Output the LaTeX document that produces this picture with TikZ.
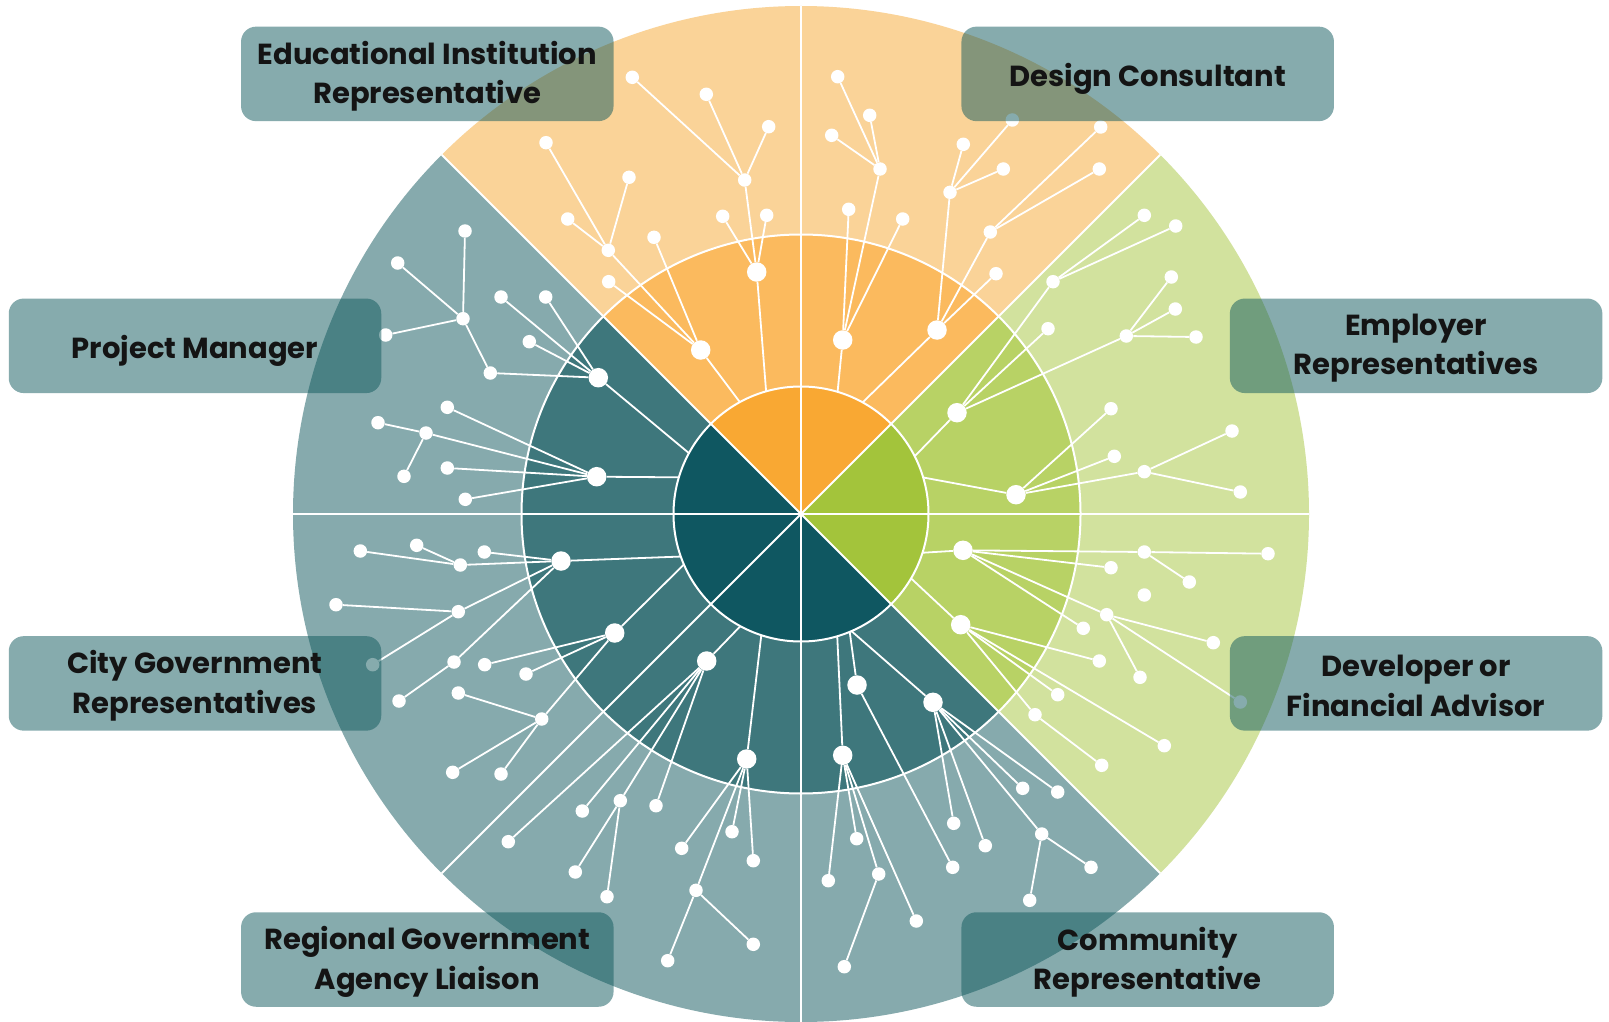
\documentclass[tikz,border=0pt]{standalone}
\usepackage{fontspec}
\setmainfont{Poppins}
\usetikzlibrary{calc}
\definecolor{oOut}{HTML}{FAD398}
\definecolor{oMid}{HTML}{FBBA5E}
\definecolor{oIn}{HTML}{F9A833}
\definecolor{gOut}{HTML}{D2E29E}
\definecolor{gMid}{HTML}{B8D265}
\definecolor{gIn}{HTML}{A3C43B}
\definecolor{tOut}{HTML}{86AAAD}
\definecolor{tMid}{HTML}{3E777C}
\definecolor{tIn}{HTML}{0F5761}
\definecolor{boxteal}{HTML}{0F595D}
\definecolor{boxtext}{HTML}{141414}
\begin{document}
\begin{tikzpicture}[x=1pt,y=-1pt,
  bigdot/.style={circle,fill=white,inner sep=0pt,minimum size=19.5pt},
  sdot/.style={circle,fill=white,inner sep=0pt,minimum size=13.5pt},
  link/.style={draw=white,line width=1.8pt},
  sepline/.style={draw=white,line width=2pt},
  tagbox/.style={rounded corners=15pt,fill=boxteal,fill opacity=0.5,
    minimum width=372.5pt,minimum height=94.5pt,inner sep=0pt},
  tagtext/.style={align=center,text=boxtext,inner sep=0pt,
    font=\bfseries\fontsize{29}{39.5}\selectfont},
  oneline/.style={tagtext,yshift=-5pt},
  twoline/.style={tagtext,yshift=-2.5pt}]
\useasboundingbox (0,0) rectangle (1609,1022);
\fill[white] (0,0) rectangle (1609,1022);
\coordinate (ctr) at (801,514);
% outer and middle rings
\foreach \a/\co/\cm in {0/gOut/gMid,45/oOut/oMid,90/oOut/oMid,135/tOut/tMid,180/tOut/tMid,225/tOut/tMid,270/tOut/tMid,315/gOut/gMid}{
  \fill[\co] (ctr) -- ++(-\a:508) arc[start angle=-\a,end angle=-\a-45,radius=508] -- cycle;
  \fill[\cm] (ctr) -- ++(-\a:279.5) arc[start angle=-\a,end angle=-\a-45,radius=279.5] -- cycle;
}
% big dots
\foreach \n/\x/\y in {A/756.7/272,B/700.7/350,C/842.7/340,D/937/330,E/957/412.7,F/1016/494.7,
  G/963/550.3,H/960.7/624.7,I/933/702.3,J/857/685,K/842.7/755.3,L/706.7/661,M/746.7/759,
  N/614.7/633,O/561/561,P/598.3/377.7,Q/596.7/476.7}
  \node[bigdot] (\n) at (\x,\y) {};
% small dots
\foreach \n/\x/\y in {
  a1/722.7/216.3,a2/744.7/180,a3/766.7/215.3,a21/706.3/94.3,a22/768.7/126.7,a23/632.3/77.3,
  b1/608.7/281.7,b2/608.3/250.3,b3/654/237.3,b21/546/142.7,b22/629/177.3,b23/567.7/219,
  c1/880/169,c2/848.7/209.3,c3/902.7/219,c11/837.7/76.7,c12/869.7/115.3,c13/831.7/135.3,
  d1/950/192.3,d2/990.3/232,d3/996/273.7,d11/963.3/144.3,d12/1012.3/120,d13/1003.3/169,
  d21/1100.7/127,d22/1099.3/169,
  e1/1053/281.7,e2/1048/328.7,e3/1126.3/336,e11/1144.3/215.3,e12/1175.7/226,
  e31/1171.3/277,e32/1175.3/309,e33/1196/337,
  f1/1111/408.7,f2/1114.3/456.3,f3/1144.3/471.7,f31/1232/431,f32/1240.3/492,
  g1/1144.3/552,g2/1111/567.7,g3/1083.3/628.3,g4/1106.7/614.7,g11/1268/553.7,g12/1189.3/582,
  g41/1213.3/642.7,g42/1140/677.3,g43/1240.3/702,iso/1144.3/595,
  h1/1099.3/661,h2/1057.7/694.7,h3/1035/714.7,h4/1164.3/745.7,h31/1101.7/765.3,
  j1/952.7/867.3,
  i1/953.7/823.3,i2/985.3/845.7,i3/1041.7/834,i4/1022.7/788.3,i5/1057.7/792,
  i31/1091/867.3,i32/1029.7/900.3,
  k1/828.3/880.7,k2/856.7/838.7,k3/878.7/874,k4/916.3/921,k31/844.3/966.7,
  l1/582.3/811,l2/620.3/800.7,l3/656/805.7,l4/508.3/841.7,l21/575.3/872,l22/607/896.7,
  m1/681.7/848.3,m2/732/831.7,m3/753.3/860.7,m4/696/890.3,m41/667.7/960.7,m42/753.3/944.3,
  o1/484.3/552,o2/460.3/565,o3/458.3/611.7,o4/454/662,o21/360.3/551,o22/416.7/545.3,
  o31/336/604.7,o32/372.7/664.7,o41/399/701,
  n1/484.7/664.7,n2/526/674,n3/541.7/719,n31/458.3/693,n32/452.7/772.3,n33/501/774,
  p1/501/297,p2/545.7/297,p3/529.3/341.7,p4/490.3/373,p41/463/318.7,
  p411/465/231,p412/397.7/263,p413/385.7/335,
  q1/447.3/407.3,q2/426/433,q3/447.3/468,q4/465.3/499.3,q21/378/422.7,q22/404/476.3}
  \node[sdot] (\n) at (\x,\y) {};
% connectors between dots
\foreach \u/\v in {A/a1,A/a2,A/a3,a2/a21,a2/a22,a2/a23,
  B/b1,B/b2,B/b3,b2/b21,b2/b22,b2/b23,
  C/c1,C/c2,C/c3,c1/c11,c1/c12,c1/c13,
  D/d1,D/d2,D/d3,d1/d11,d1/d12,d1/d13,d2/d21,d2/d22,
  E/e1,E/e2,E/e3,e1/e11,e1/e12,e3/e31,e3/e32,e3/e33,
  F/f1,F/f2,F/f3,f3/f31,f3/f32,
  G/g1,G/g2,G/g3,G/g4,g1/g11,g1/g12,g4/g41,g4/g42,g4/g43,
  H/h1,H/h2,H/h3,H/h4,h3/h31,
  J/j1,
  I/i1,I/i2,I/i3,I/i4,I/i5,i3/i31,i3/i32,
  K/k1,K/k2,K/k3,K/k4,k3/k31,
  L/l1,L/l2,L/l3,L/l4,l2/l21,l2/l22,
  M/m1,M/m2,M/m3,M/m4,m4/m41,m4/m42,
  O/o1,O/o2,O/o3,O/o4,o2/o21,o2/o22,o3/o31,o3/o32,o4/o41,
  N/n1,N/n2,N/n3,n3/n31,n3/n32,n3/n33,
  P/p1,P/p2,P/p3,P/p4,p4/p41,p41/p411,p41/p412,p41/p413,
  Q/q1,Q/q2,Q/q3,Q/q4,q2/q21,q2/q22}
  \draw[link] (\u) -- (\v);
% connectors from big dots into the inner circle
\foreach \u/\x/\y in {A/766/390,B/738.3/400,C/837.7/390.7,D/863.3/401.7,E/914.3/456.7,
  F/922.3/477.3,G/923.3/552.7,H/911.7/579,J/850/634,I/853.3/632.7,K/837.3/637.3,
  L/738.3/628.3,M/761/637.7,O/676.7/556.7,N/681.7/566.7,P/686/450.7,Q/675/477.3}{
  \coordinate (\u-in) at ($(\u)!1.12!(\x,\y)$);
  \draw[link] (\u) -- (\u-in);
}
% inner circle
\foreach \a/\ci in {0/gIn,45/oIn,90/oIn,135/tIn,180/tIn,225/tIn,270/tIn,315/gIn}{
  \fill[\ci] (ctr) -- ++(-\a:127.5) arc[start angle=-\a,end angle=-\a-45,radius=127.5] -- cycle;
}
% white separators
\foreach \a in {0,45,...,315}
  \draw[sepline] (ctr) -- ++(-\a:508);
\draw[sepline] (ctr) circle[radius=127.5];
\draw[sepline] (ctr) circle[radius=279.5];
% label boxes
\node[tagbox] (tEdu) at (427.3,73.9) {};
\node[tagbox] (tDes) at (1147.7,73.9) {};
\node[tagbox] (tPM) at (195,345.8) {};
\node[tagbox] (tEmp) at (1416.1,345.8) {};
\node[tagbox] (tCity) at (195,683.4) {};
\node[tagbox] (tDev) at (1416.1,683.4) {};
\node[tagbox] (tReg) at (427.3,959.5) {};
\node[tagbox] (tCom) at (1147.7,959.5) {};
\node[twoline] (xEdu) at (tEdu.center) {Educational Institution\\Representative};
\node[oneline] (xDes) at (tDes.center) {Design Consultant};
\node[oneline] (xPM) at (tPM.center) {Project Manager};
\node[twoline] (xEmp) at (tEmp.center) {Employer\\Representatives};
\node[twoline] (xCity) at (tCity.center) {City Government\\Representatives};
\node[twoline] (xDev) at (tDev.center) {Developer or\\Financial Advisor};
\node[twoline] (xReg) at (tReg.center) {Regional Government\\Agency Liaison};
\node[twoline] (xCom) at (tCom.center) {Community\\Representative};
\end{tikzpicture}
\end{document}
